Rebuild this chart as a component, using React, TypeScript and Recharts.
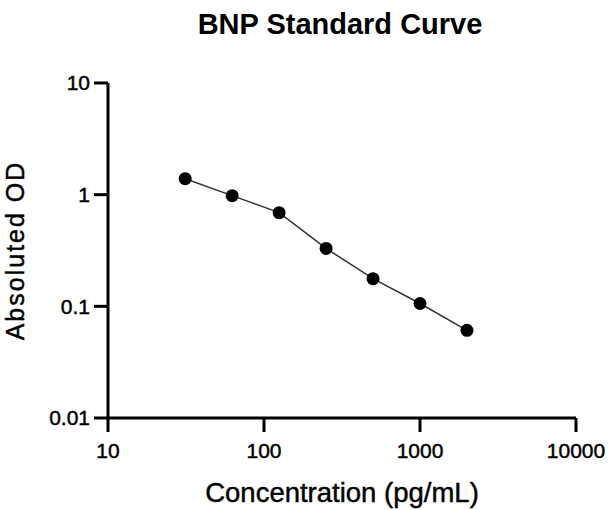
import React from "react";
import {
  ScatterChart,
  Scatter,
  XAxis,
  YAxis,
  Label,
} from "recharts";

// BNP standard curve: concentration (pg/mL) vs absoluted OD
const concentrations = [31.25, 62.5, 125, 250, 500, 1000, 2000];
const odValues = [1.39, 0.98, 0.69, 0.33, 0.177, 0.106, 0.061];

const xTicks = [10, 100, 1000, 10000];
const yTicks = [0.01, 0.1, 1, 10];

const data = concentrations.map((c, i) => ({ x: c, y: odValues[i] }));

const FONT = "'Liberation Sans', Arial, sans-serif";
const axisStroke = { stroke: "#000", strokeWidth: 3 };
const heavyText = { fill: "#000", stroke: "#000", strokeWidth: 0.45, fontFamily: FONT };

type TickProps = { x?: number; y?: number; payload?: { value: number } };

const renderXTick = ({ x, y, payload }: TickProps) => (
  <text x={x} y={y} dy="0.71em" textAnchor="middle" style={{ ...heavyText, fontSize: 21 }}>
    {payload?.value}
  </text>
);

const renderYTick = ({ x, y, payload }: TickProps) => (
  <text x={x} y={y} dy="0.355em" textAnchor="end" style={{ ...heavyText, fontSize: 21 }}>
    {payload?.value}
  </text>
);

const Dot = (props: { cx?: number; cy?: number }) => (
  <circle cx={props.cx} cy={props.cy} r={6.5} fill="#000" />
);

export default function App() {
  return (
    <div style={{ position: "absolute", left: 0, top: 0, width: 609, height: 510, background: "#fff" }}>
      <div
        style={{
          position: "absolute",
          left: 0,
          width: 680,
          top: 10,
          textAlign: "center",
          fontFamily: FONT,
          fontWeight: 700,
          fontSize: 29,
          lineHeight: "29px",
          color: "#000",
        }}
      >
        BNP Standard Curve
      </div>
      <ScatterChart
        width={609}
        height={510}
        margin={{ top: 83, right: 33, bottom: 0, left: 0 }}
      >
        <XAxis
          type="number"
          dataKey="x"
          scale="log"
          domain={[10, 10000]}
          ticks={xTicks}
          allowDataOverflow
          height={92}
          axisLine={axisStroke}
          tickLine={axisStroke}
          tickSize={14}
          tickMargin={11}
          tick={renderXTick}
          interval={0}
        >
          <Label
            value="Concentration (pg/mL)"
            position="insideBottom"
            offset={8}
            style={{ ...heavyText, fontSize: 27.5 }}
          />
        </XAxis>
        <YAxis
          type="number"
          dataKey="y"
          scale="log"
          domain={[0.01, 10]}
          ticks={yTicks}
          allowDataOverflow
          width={108}
          axisLine={axisStroke}
          tickLine={axisStroke}
          tickSize={14}
          tickMargin={4}
          tick={renderYTick}
          interval={0}
        >
          <Label
            value="Absoluted OD"
            angle={-90}
            position="insideLeft"
            offset={15}
            style={{
              ...heavyText,
              fontSize: 25,
              letterSpacing: 2,
              textAnchor: "middle",
            }}
          />
        </YAxis>
        <Scatter
          data={data}
          line={{ stroke: "#333", strokeWidth: 1.5 }}
          shape={<Dot />}
          isAnimationActive={false}
        />
      </ScatterChart>
    </div>
  );
}
